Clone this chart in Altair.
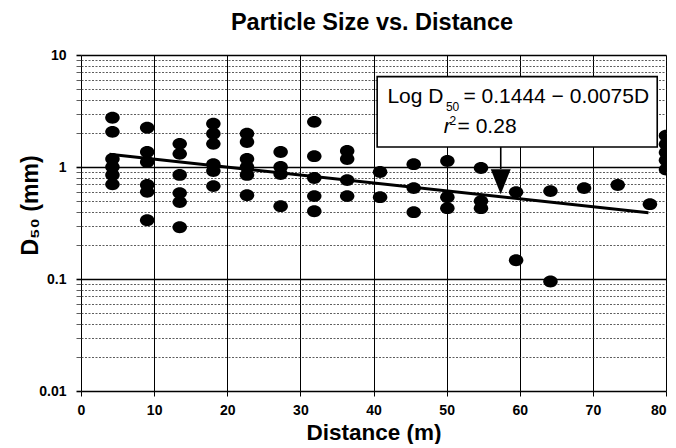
import altair as alt
import pandas as pd

# ---------------- data ----------------
col_dist = [4.3, 9.05, 13.5, 18.1, 22.7, 27.3, 31.9, 36.4, 40.9, 45.5,
            50.1, 54.7, 59.5, 64.2, 68.8, 73.4, 77.8, 80.0]
col_d50 = [
    [2.75, 2.06, 1.18, 1.0, 0.85, 0.70],
    [2.24, 1.36, 1.11, 0.69, 0.60, 0.335],
    [1.61, 1.31, 0.85, 0.585, 0.486, 0.29],
    [2.43, 1.98, 1.61, 1.06, 0.92, 0.675],
    [1.98, 1.67, 1.18, 1.0, 0.85, 0.56],
    [1.36, 1.0, 0.866, 0.447],
    [2.53, 1.25, 0.797, 0.55, 0.403],
    [1.39, 1.18, 0.764, 0.55],
    [0.902, 0.538],
    [1.06, 0.648, 0.395],
    [1.13, 0.538, 0.429],
    [0.98, 0.496, 0.429],
    [0.597, 0.147],
    [0.609, 0.095],
    [0.648],
    [0.69],
    [0.466],
    [1.9, 1.6, 1.35, 1.15, 0.95],
]

fit_dist = [3.9, 77.6]
fit_d50 = [1.30, 0.39]

arrow_dist = 57.4
arrow_top = 1.51
arrow_bottom = 0.96
arrow_head = 0.74

box_dist = [40.5, 78.8]
box_d50 = [1.51, 6.41]

x_ticks = [0, 10, 20, 30, 40, 50, 60, 70, 80]
y_major = [0.01, 0.1, 1, 10]
y_minor = [round(m * 10 ** e, 4) for e in (-2, -1, 0) for m in range(2, 10)]

# annotation pieces: text, distance, D50, size, style
ann_text = ["Log D", "50", "= 0.1444 \u2212 0.0075D", "r", "2", "=  0.28"]
ann_dist = [41.9, 49.9, 52.3, 49.6, 50.4, 51.5]
ann_d50 = [4.24, 3.45, 4.24, 2.28, 2.55, 2.28]
ann_size = [21, 12, 21, 21, 12, 21]
ann_style = ["normal", "normal", "normal", "italic", "normal", "normal"]

# ---------------- tables ----------------
pts = pd.DataFrame(
    [{"d": d, "v": v} for d, vs in zip(col_dist, col_d50) for v in vs]
)
fit = pd.DataFrame({"d": fit_dist, "v": fit_d50})
arrow = pd.DataFrame({"d": [arrow_dist], "v": [arrow_top], "v2": [arrow_bottom]})
head_df = pd.DataFrame({"d": [arrow_dist], "v": [arrow_head]})
box = pd.DataFrame({"d": [box_dist[0]], "d2": [box_dist[1]], "v": [box_d50[0]], "v2": [box_d50[1]]})
ann = pd.DataFrame({"t": ann_text, "d": ann_dist, "v": ann_d50})

FONT = "Liberation Sans"
MAJOR = "abs(log(datum.value)/LN10 - round(log(datum.value)/LN10)) < 0.001"

xscale = alt.Scale(domain=[0, 80], nice=False, zero=False)
yscale = alt.Scale(type="log", domain=[0.01, 10], nice=False)

x_axis = alt.Axis(
    values=x_ticks, grid=True, gridColor="black", gridWidth=1,
    domain=False, ticks=True, tickSize=5, tickColor="black", tickWidth=1,
    labelFont=FONT, labelFontSize=14, labelFontWeight="bold", labelColor="black",
    labelPadding=7, labelFlush=False,
    labelAlign={"condition": {"test": "datum.value == 80", "value": "right"}, "value": "center"},
    title="Distance (m)", titleFont=FONT, titleFontSize=22.5, titleFontWeight="bold",
    titleColor="black", titlePadding=4,
)
y_axis = alt.Axis(
    values=y_major + y_minor, grid=True,
    gridColor={"condition": {"test": MAJOR, "value": "black"}, "value": "#333333"},
    gridWidth={"condition": {"test": MAJOR, "value": 1.6}, "value": 0.8},
    gridDash={"condition": {"test": MAJOR, "value": []}, "value": [2, 1.5]},
    domain=False, ticks=True, tickSize=5,
    tickColor={"condition": {"test": MAJOR, "value": "black"}, "value": "#333333"},
    tickWidth={"condition": {"test": MAJOR, "value": 1.6}, "value": 0.8},
    labelExpr=f"({MAJOR}) ? format(datum.value, '~g') : ''",
    labelFont=FONT, labelFontSize=14, labelFontWeight="bold", labelColor="black",
    labelPadding=10,
    title="D\u2085\u2080 (mm)", titleFont=FONT, titleFontSize=23, titleFontWeight="bold",
    titleColor="black", titleAngle=-90, titleX=-51, titleY=150,
    titleAlign="center", titleBaseline="middle",
)

X = alt.X("d:Q", scale=xscale, axis=x_axis)
Y = alt.Y("v:Q", scale=yscale, axis=y_axis)

ellipse = "M-1,0A1,0.82,0,1,0,1,0A1,0.82,0,1,0,-1,0Z"
tri = "M-1,-1.25L1,-1.25L0,1.25Z"

points = alt.Chart(pts).mark_point(
    shape=ellipse, size=210, filled=True, color="black", opacity=1, strokeWidth=0, clip=True
).encode(x=X, y=Y)

line = alt.Chart(fit).mark_line(color="black", strokeWidth=3).encode(x=X, y=Y)

rect = alt.Chart(box).mark_rect(fill="white", stroke="black", strokeWidth=1.6).encode(
    x=X, x2="d2:Q", y=Y, y2="v2:Q",
)

rule = alt.Chart(arrow).mark_rule(color="black", strokeWidth=1.6).encode(
    x=X, y=Y, y2="v2:Q",
)

head = alt.Chart(head_df).mark_point(
    shape=tri, size=400, filled=True, color="black", opacity=1, strokeWidth=0
).encode(x=X, y=Y)

texts = []
for i in range(len(ann_text)):
    sub = ann.iloc[[i]]
    texts.append(
        alt.Chart(sub).mark_text(
            align="left", baseline="middle", font=FONT, fontSize=ann_size[i],
            fontStyle=ann_style[i], color="black",
        ).encode(x=X, y=Y, text="t:N")
    )

chart = alt.layer(points, line, rect, rule, head, *texts).properties(
    width=585, height=336,
    title=alt.TitleParams(
        "Particle Size vs. Distance", font=FONT, fontSize=23.5, fontWeight="bold",
        color="black", anchor="middle", dx=-1.5, offset=14,
    ),
    padding={"left": 11, "top": 2, "right": 0, "bottom": 0},
).configure_view(stroke="black", strokeWidth=1.6).configure(background="white")

chart.save("out.html", embed_options={"renderer": "svg", "actions": False})
